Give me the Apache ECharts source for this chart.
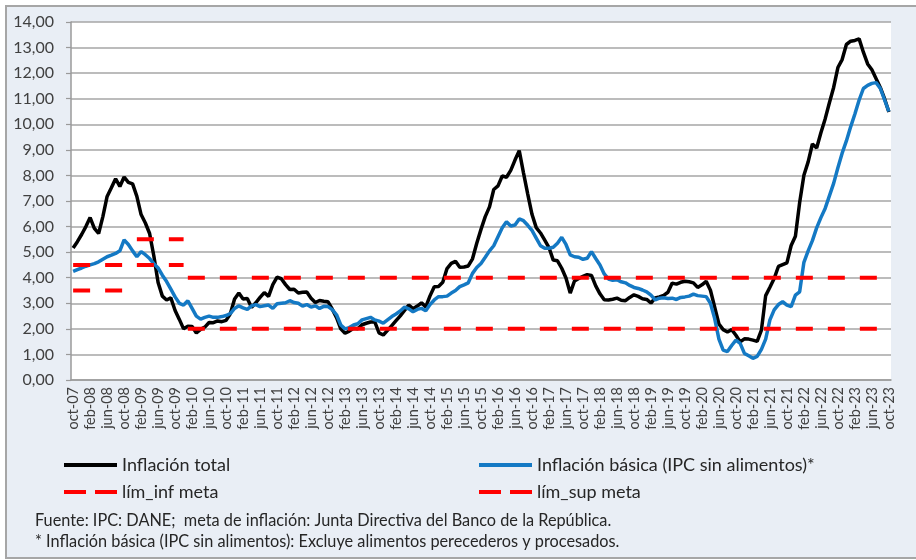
<!DOCTYPE html>
<html><head><meta charset="utf-8">
<script src="https://cdn.jsdelivr.net/npm/echarts@6/dist/echarts.min.js"></script>
<style>html,body{margin:0;padding:0;background:#fff;} #c{width:916px;height:560px;}</style>
</head><body><div id="c"></div>
<script>
// Month labels (Spanish), oct-07 .. oct-23
const monthNames = ['ene','feb','mar','abr','may','jun','jul','ago','sep','oct','nov','dic'];
const startYear = 2007, startMonthIndex = 9, nMonths = 193;
const categories = [];
for (let i = 0; i < nMonths; i++) {
  const mi = (startMonthIndex + i) % 12;
  const y = startYear + Math.floor((startMonthIndex + i) / 12);
  categories.push(monthNames[mi] + '-' + String(y % 100).padStart(2, '0'));
}

// Inflación total (annual %, monthly)
const inflacionTotal = [
  5.16,5.41,5.69,
  6.00,6.35,5.93,5.73,6.39,7.18,7.52,7.87,7.57,7.94,7.73,7.67,
  7.18,6.47,6.14,5.73,4.85,3.81,3.28,3.13,3.21,2.72,2.37,2.00,
  2.10,2.09,1.84,1.98,2.07,2.25,2.24,2.31,2.28,2.33,2.59,3.17,
  3.40,3.17,3.19,2.84,3.02,3.23,3.42,3.27,3.73,4.02,3.96,3.73,
  3.54,3.55,3.40,3.43,3.44,3.20,3.03,3.11,3.08,3.06,2.77,2.44,
  2.00,1.83,1.91,2.02,2.00,2.16,2.22,2.27,2.27,1.84,1.76,1.94,
  2.13,2.32,2.51,2.72,2.93,2.79,2.89,3.02,2.86,3.29,3.65,3.66,
  3.82,4.36,4.56,4.64,4.41,4.42,4.46,4.74,5.35,5.89,6.39,6.77,
  7.45,7.59,7.98,7.93,8.20,8.60,8.97,8.10,7.27,6.48,5.96,5.75,
  5.47,5.18,4.69,4.66,4.37,3.99,3.40,3.87,3.97,4.05,4.12,4.09,
  3.68,3.37,3.14,3.13,3.16,3.20,3.12,3.10,3.23,3.33,3.27,3.18,
  3.15,3.01,3.21,3.25,3.31,3.43,3.79,3.75,3.82,3.86,3.84,3.80,
  3.62,3.72,3.86,3.51,2.85,2.19,1.97,1.88,1.97,1.75,1.49,1.61,
  1.60,1.56,1.51,1.95,3.30,3.63,3.97,4.44,4.51,4.58,5.26,5.62,
  6.94,8.01,8.53,9.23,9.07,9.67,10.21,10.84,11.44,12.22,12.53,13.12,
  13.25,13.28,13.34,12.82,12.36,12.13,11.78,11.43,10.99,10.48
];

// Inflación básica (IPC sin alimentos)
const inflacionBasica = [
  4.25,4.32,4.38,
  4.45,4.50,4.55,4.62,4.72,4.82,4.88,4.95,5.05,5.48,5.30,5.05,
  4.82,5.02,4.90,4.75,4.55,4.38,4.10,3.85,3.55,3.25,3.00,2.93,
  3.10,2.80,2.50,2.38,2.45,2.50,2.45,2.45,2.48,2.52,2.60,2.80,
  2.90,2.82,2.76,2.90,2.95,2.87,2.90,2.93,2.80,2.98,3.00,3.02,
  3.10,3.03,3.00,2.89,2.95,2.85,2.90,2.80,2.88,2.87,2.75,2.55,
  2.15,2.00,2.05,2.15,2.20,2.35,2.40,2.45,2.35,2.30,2.22,2.35,
  2.48,2.58,2.70,2.85,2.78,2.67,2.76,2.80,2.71,2.95,3.13,3.26,
  3.26,3.28,3.40,3.50,3.65,3.72,3.80,4.17,4.40,4.56,4.80,5.05,
  5.25,5.60,5.95,6.19,6.02,6.06,6.30,6.23,6.05,5.85,5.55,5.25,
  5.15,5.15,5.19,5.35,5.58,5.30,4.89,4.82,4.80,4.72,4.76,5.02,
  4.75,4.50,4.15,3.95,3.90,3.92,3.84,3.80,3.70,3.62,3.58,3.52,
  3.45,3.32,3.13,3.20,3.22,3.19,3.20,3.15,3.23,3.25,3.28,3.36,
  3.30,3.28,3.26,3.00,2.40,1.60,1.17,1.11,1.35,1.56,1.43,1.04,
  0.95,0.85,0.92,1.20,1.60,2.35,2.74,2.95,3.06,2.93,2.87,3.32,
  3.45,4.60,5.05,5.45,5.95,6.35,6.71,7.20,7.69,8.30,8.87,9.35,
  9.90,10.40,10.95,11.40,11.52,11.60,11.63,11.40,10.95,10.50
];

// Inflation target range (meta) by period
const targetStart = ['oct-07','ene-09','ene-10'];
const limInfValues = [3.5, 4.5, 2.0];
const limSupValues = [4.5, 5.5, 4.0];

const yMin = 0, yMax = 14, yStep = 1;

const nameTotal = 'Inflación total';
const nameBasica = 'Inflación básica (IPC sin alimentos)*';
const nameInf = 'lím_inf meta';
const nameSup = 'lím_sup meta';
const FONT = 'Lato';
const RED = '#FF0000';
const SOLID_ICON = 'path://M0,0H53V4H0Z';
const DASH_ICON = 'path://M0,0H22V4H0ZM31,0H53V4H31Z';

function targetSeries(name, values) {
  return values.map((v, k) => {
    const s = categories.indexOf(targetStart[k]);
    const e = k + 1 < targetStart.length ? categories.indexOf(targetStart[k + 1]) : nMonths;
    const data = categories.map((c, i) => (i >= s && i < e ? v : null));
    return {
      name, type: 'line', data, symbol: 'none', silent: true, z: 4,
      lineStyle: { color: RED, width: 4, type: [17, 15] },
      itemStyle: { color: RED }
    };
  });
}

const legendText = { fontFamily: FONT, fontSize: 18, color: '#262626', lineHeight: 20 };

const chart = echarts.init(document.getElementById('c'), null, { renderer: 'canvas' });
chart.setOption({
  animation: false,
  backgroundColor: '#ffffff',
  graphic: [
    { type: 'rect', z: -10, silent: true,
      shape: { x: 6, y: 6, width: 930, height: 552 },
      style: { fill: '#E9EEF5', stroke: '#A6A6A6', lineWidth: 2 } },
    { type: 'text', left: 35, top: 513, silent: true,
      style: { text: 'Fuente: IPC: DANE;  meta de inflación: Junta Directiva del Banco de la República.',
               font: '16.3px ' + FONT, fill: '#262626' } },
    { type: 'text', left: 35, top: 534, silent: true,
      style: { text: '* Inflación básica (IPC sin alimentos): Excluye alimentos perecederos y procesados.',
               font: '16.3px ' + FONT, fill: '#262626' } }
  ],
  grid: { left: 71, right: 25, top: 22, bottom: 180, show: true, backgroundColor: '#ffffff', borderWidth: 0 },
  legend: [
    { left: 64, top: 455, padding: 0, orient: 'vertical', itemWidth: 53, itemHeight: 4, itemGap: 7,
      textStyle: legendText,
      data: [ { name: nameTotal, icon: SOLID_ICON }, { name: nameInf, icon: DASH_ICON } ] },
    { left: 479, top: 455, padding: 0, orient: 'vertical', itemWidth: 53, itemHeight: 4, itemGap: 7,
      textStyle: legendText,
      data: [ { name: nameBasica, icon: SOLID_ICON }, { name: nameSup, icon: DASH_ICON } ] }
  ],
  xAxis: {
    type: 'category', data: categories, boundaryGap: true,
    axisLine: { lineStyle: { color: '#9A9A9A', width: 1.5 } },
    axisTick: { interval: 3, length: 5, lineStyle: { color: '#9A9A9A', width: 1.2 } },
    axisLabel: { interval: 3, rotate: 90, fontFamily: FONT, fontSize: 14.5, color: '#404040', margin: 7 },
    splitLine: { show: false }
  },
  yAxis: {
    type: 'value', min: yMin, max: yMax, interval: yStep,
    axisLine: { show: true, lineStyle: { color: '#9A9A9A', width: 1.5 } },
    axisTick: { show: true, length: 5, lineStyle: { color: '#9A9A9A', width: 1.2 } },
    axisLabel: { fontFamily: FONT, fontSize: 16, color: '#404040', margin: 17,
      formatter: v => v.toFixed(2).replace('.', ',') },
    splitLine: { lineStyle: { color: '#A6A6A6', width: 1.6 } }
  },
  series: [
    { name: nameTotal, type: 'line', data: inflacionTotal, symbol: 'none', z: 2,
      lineStyle: { color: '#000000', width: 3.5 }, itemStyle: { color: '#000000' } },
    { name: nameBasica, type: 'line', data: inflacionBasica, symbol: 'none', z: 3,
      lineStyle: { color: '#1479C4', width: 3.5 }, itemStyle: { color: '#1479C4' } },
    ...targetSeries(nameInf, limInfValues),
    ...targetSeries(nameSup, limSupValues)
  ]
});
</script>
</body></html>
